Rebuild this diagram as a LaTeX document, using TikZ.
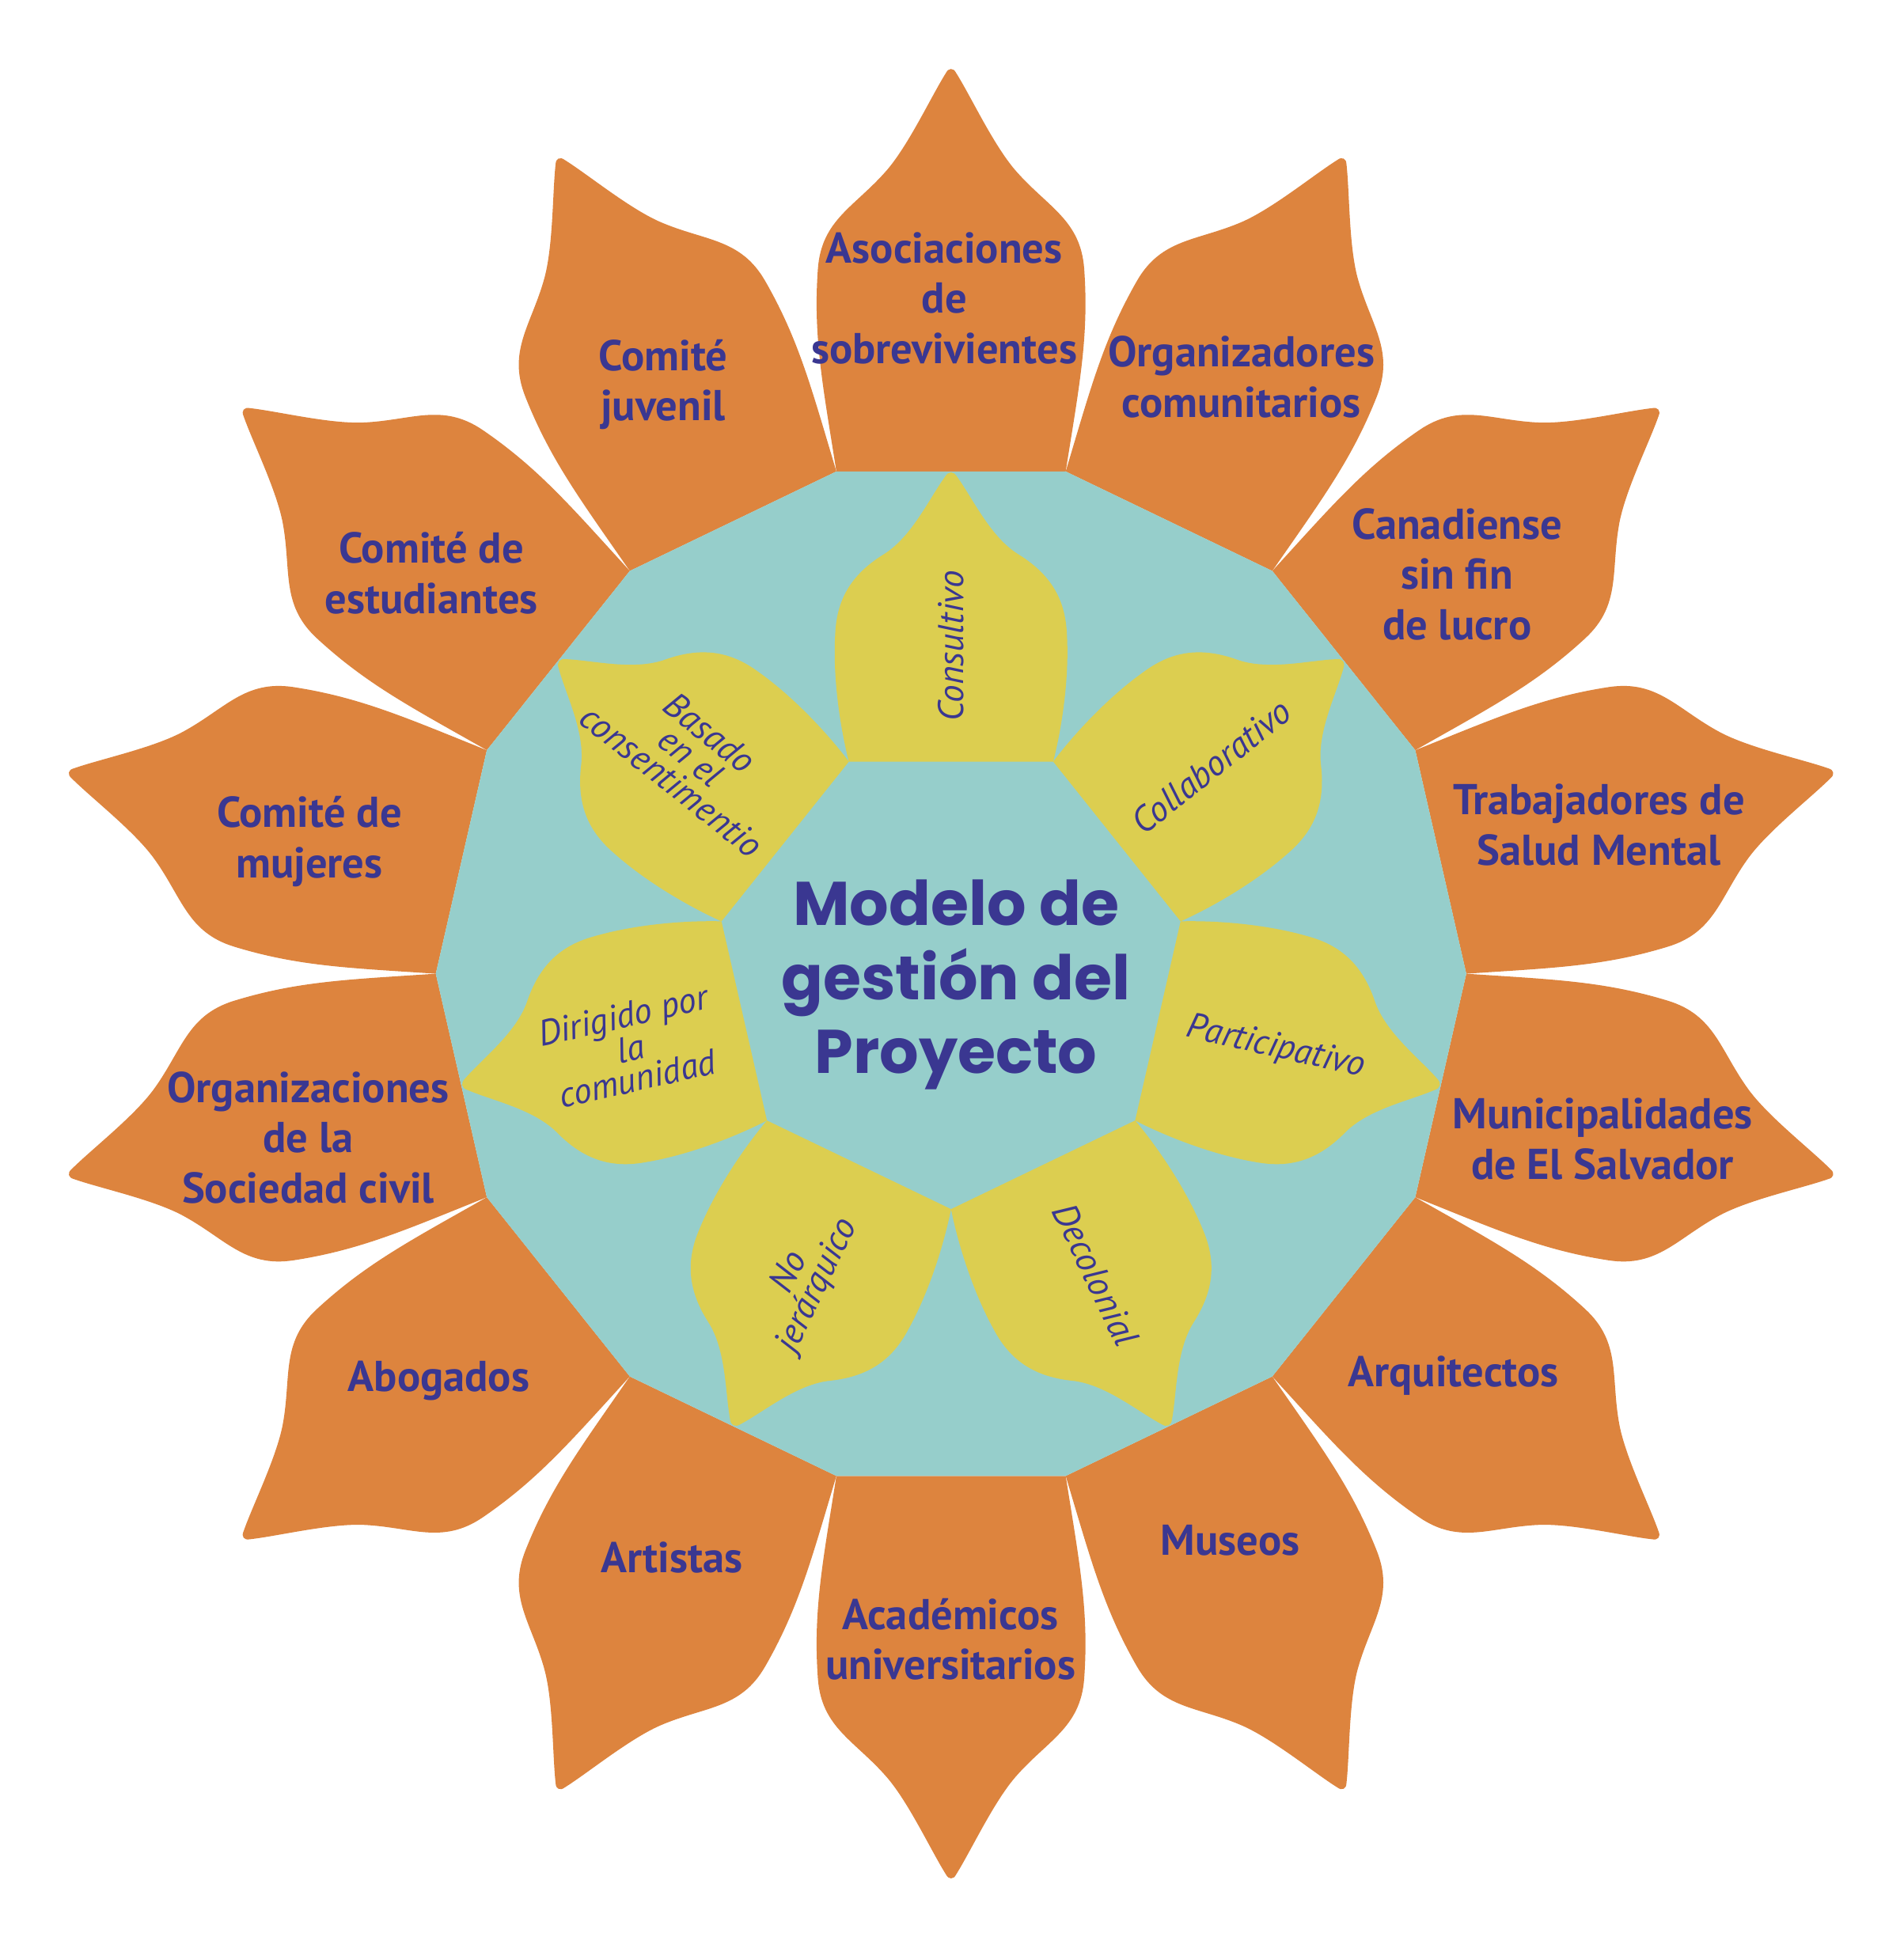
\documentclass[tikz,border=0pt]{standalone}
\usepackage{fontspec}
\setmainfont{PT Sans}
\newfontfamily\titlefont{Poppins}
\definecolor{porange}{HTML}{DD843E}
\definecolor{pteal}{HTML}{96CECB}
\definecolor{pyellow}{HTML}{DCCE50}
\definecolor{ptext}{HTML}{3A3791}
\tikzset{
  outerlabel/.style={text=ptext, font=\fontsize{35}{41}\selectfont\bfseries, align=center, inner sep=0pt},
  innerlabel/.style={text=ptext, font=\fontsize{29}{25}\selectfont\itshape, align=center, inner sep=0pt},
  titlelabel/.style={text=ptext, font=\titlefont\fontsize{50}{60}\selectfont\bfseries, align=center, inner sep=0pt},
  opetal/.style={fill=porange},
  ypetal/.style={fill=pyellow},
}
\begin{document}
\begin{tikzpicture}[x=1pt,y=1pt]
\useasboundingbox (-771.5,-778.3) rectangle (772.5,790);
\fill[white] (-771.5,-778.3) rectangle (772.5,790);
% outer orange petals
\foreach \i in {0,...,13}{
  \fill[opetal, rotate=-25.7142857*\i]
    (-93,407.5) .. controls (-104,477) and (-112,517) .. (-108,572)
    .. controls (-105,612) and (-78,622) .. (-52,652)
    .. controls (-34,673) and (-16,712) .. (-4,731)
    .. controls (-2,735) and (2,735) .. (4,731)
    .. controls (16,712) and (34,673) .. (52,652)
    .. controls (78,622) and (105,612) .. (108,572)
    .. controls (112,517) and (104,477) .. (93,407.5) -- cycle;
}
% teal 14-gon
\fill[pteal] (77.142857:418) \foreach \k in {1,...,13}{ -- ({77.142857+25.714286*\k}:418) } -- cycle;
% inner yellow petals
\foreach \j in {0,...,6}{
  \fill[ypetal, rotate=-51.4285714*\j]
    (-82.9,172.1) .. controls (-90,200) and (-96,240) .. (-94,275)
    .. controls (-93,300) and (-84,322) .. (-55,340)
    .. controls (-32,354) and (-18,385) .. (-5,403)
    .. controls (-2,408) and (2,408) .. (5,403)
    .. controls (18,385) and (32,354) .. (55,340)
    .. controls (84,322) and (93,300) .. (94,275)
    .. controls (96,240) and (90,200) .. (82.9,172.1) -- cycle;
}
% title
\node[titlelabel] (title) at (4,-9) {Modelo de\\gestión del\\Proyecto};
% inner labels
\node[innerlabel, rotate=90] (consultivo) at (90:266) {Consultivo};
\node[innerlabel, rotate=38.5714] (collab) at (38.5714:270) {Collaborativo};
\node[innerlabel, rotate=-12.8571] (particip) at (-12.8571:270) {Participativo};
\node[innerlabel, rotate=-64.2857] (decol) at (-64.2857:271) {Decolonial};
\node[innerlabel, rotate=64.2857] (nojer) at (-115.7143:275) {No\\jerárquico};
\node[innerlabel, rotate=12.8571] (dirigido) at (-167.1429:267) {Dirigido por\\la\\comunidad};
\node[innerlabel, rotate=-38.5714] (basado) at (-211,176) {Basado\\en el\\consentimentio};
% outer labels
\node[outerlabel] (o0) at (-5.5,548) {Asociaciones\\de\\sobrevivientes};
\node[outerlabel] (o1) at (235.5,484) {Organizadores\\comunitarios};
\node[outerlabel] (o2) at (410.5,324) {Canadiense\\sin fin\\de lucro};
\node[outerlabel] (o3) at (525.5,121) {Trabajadores de\\Salud Mental};
\node[outerlabel] (o4) at (528.5,-134) {Municipalidades\\de El Salvador};
\node[outerlabel] (o5) at (407.5,-326) {Arquitectos};
\node[outerlabel] (o6) at (226.5,-460) {Museos};
\node[outerlabel] (o7) at (-0.5,-540) {Académicos\\universitarios};
\node[outerlabel] (o8) at (-226.5,-474) {Artistas};
\node[outerlabel] (o9) at (-415.5,-330) {Abogados};
\node[outerlabel] (o10) at (-521.5,-133) {Organizaciones\\de la\\Sociedad civil};
\node[outerlabel] (o11) at (-520.5,107) {Comité de\\mujeres};
\node[outerlabel] (o12) at (-421.5,325) {Comité de\\estudiantes};
\node[outerlabel] (o13) at (-233.5,478) {Comité\\juvenil};
\end{tikzpicture}
\end{document}
